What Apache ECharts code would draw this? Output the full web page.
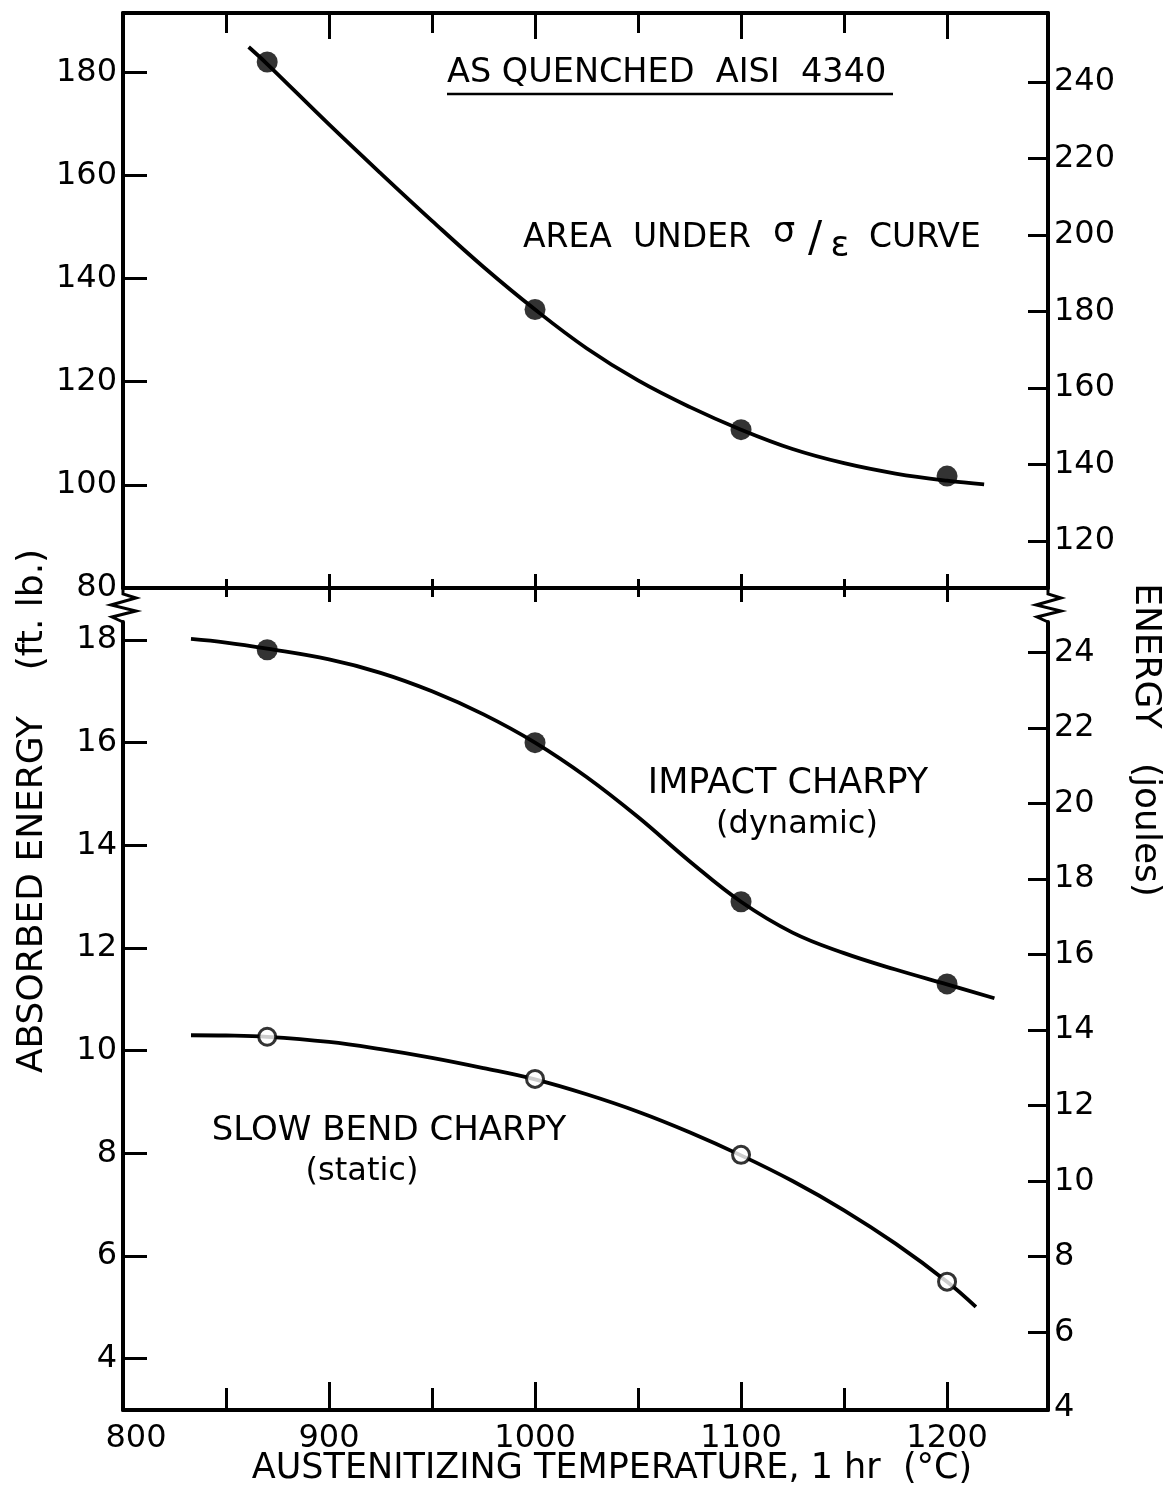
<!DOCTYPE html>
<html>
<head>
<meta charset="utf-8">
<script src="https://cdn.jsdelivr.net/npm/echarts@6/dist/echarts.min.js"></script>
<style>
  html, body { margin: 0; padding: 0; background: #fff; }
  #chart { width: 1171px; height: 1497px; }
</style>
</head>
<body>
<div id="chart"></div>
<script>
// Austenitizing temperatures of the test points (°C)
const testTemps = [870, 1000, 1100, 1200];
// Absorbed energy at each test temperature (ft-lb)
const areaUnderCurve = [182.0, 134.0, 110.7, 101.7];
const impactCharpy = [17.81, 16.0, 12.9, 11.3];
const slowBendCharpy = [10.27, 9.45, 7.97, 5.5];

// Faired curves through the test points (temperature °C, ft-lb)
const areaFitTemps = [861, 870, 900, 925, 950, 975, 1000, 1025, 1050, 1075, 1100, 1125, 1150, 1175, 1200, 1218];
const areaFitValues = [184.9, 181.6, 169.9, 160.45, 151.2, 142.25, 134.0, 126.5, 120.25, 115.12, 110.7, 106.95, 104.2, 102.2, 100.8, 100.1];
const impactFitTemps = [833, 850, 870, 900, 925, 950, 975, 1000, 1025, 1050, 1075, 1100, 1125, 1150, 1175, 1200, 1223];
const impactFitValues = [18.02, 17.95, 17.83, 17.62, 17.36, 17.0, 16.55, 16.0, 15.33, 14.55, 13.69, 12.9, 12.3, 11.9, 11.58, 11.29, 11.02];
const slowFitTemps = [833, 850, 870, 900, 925, 950, 975, 1000, 1025, 1050, 1075, 1100, 1125, 1150, 1175, 1200, 1214];
const slowFitValues = [10.3, 10.295, 10.27, 10.17, 10.03, 9.86, 9.66, 9.44, 9.15, 8.81, 8.41, 7.96, 7.46, 6.89, 6.24, 5.5, 5.01];

// Axis ranges and tick labels
const tempRange = [800, 1249];
const upperFtLbRange = [80, 191.5];
const upperJouleRange = [107.7, 258.0];
const lowerFtLbRange = [3, 18.35];
const lowerJouleRange = [3.94, 24.81];
const tempTicks = [800, 900, 1000, 1100, 1200];
const tempMajorTicks = [900, 1000, 1100, 1200];
const tempMinorTicks = [850, 950, 1050, 1150];
const upperFtLbTicks = [80, 100, 120, 140, 160, 180];
const upperJouleTicks = [120, 140, 160, 180, 200, 220, 240];
const lowerFtLbTicks = [4, 6, 8, 10, 12, 14, 16, 18];
const lowerJouleTicks = [4, 6, 8, 10, 12, 14, 16, 18, 20, 22, 24];

// Page layout (px)
const FONT = 'DejaVu Sans';
const INK = '#000';
const GRID_LEFT = 123, GRID_RIGHT = 123;
const UPPER_TOP = 13, UPPER_BOTTOM = 588;
const LOWER_TOP = 622, LOWER_BOTTOM = 1410;
const PAGE_W = 1171;

const zip = (xs, ys) => xs.map((x, i) => [x, ys[i]]);

// x axis carrying only a set of ticks (gives major and minor ticks different lengths)
function tickAxis(gridIndex, position, values, length, inside, showLine) {
  return {
    type: 'value', gridIndex, position, min: tempRange[0], max: tempRange[1],
    axisLine: { show: showLine, onZero: false, lineStyle: { color: INK, width: 4 } },
    axisTick: { show: true, inside, length, customValues: values, lineStyle: { color: INK, width: 3 } },
    axisLabel: { show: false },
    splitLine: { show: false }
  };
}

const labelStyle = { color: INK, fontFamily: FONT, fontSize: 32 };

function energyAxis(gridIndex, position, range, labels, ticks, tickLen) {
  return {
    type: 'value', gridIndex, position, min: range[0], max: range[1],
    axisLine: { show: true, onZero: false, lineStyle: { color: INK, width: 4 } },
    axisTick: { show: true, inside: true, length: tickLen, customValues: ticks, lineStyle: { color: INK, width: 3 } },
    axisLabel: Object.assign({ show: true, margin: 6, customValues: labels }, labelStyle),
    splitLine: { show: false }
  };
}

const xAxes = [
  tickAxis(0, 'top', tempMajorTicks, 26, true, true),
  tickAxis(0, 'top', tempMinorTicks, 20, true, false),
  tickAxis(0, 'bottom', tempMajorTicks, 14, true, true),
  tickAxis(0, 'bottom', tempMajorTicks, 14, false, false),
  tickAxis(0, 'bottom', tempMinorTicks, 9, true, false),
  tickAxis(0, 'bottom', tempMinorTicks, 9, false, false),
  Object.assign(tickAxis(1, 'bottom', tempMajorTicks, 28, true, true), {
    axisLabel: Object.assign({
      show: true, margin: 13, customValues: tempTicks,
      formatter: v => (v === 800 ? '{shift|800}' : String(v)),
      rich: { shift: Object.assign({ padding: [0, 0, 0, 26] }, labelStyle) }
    }, labelStyle)
  }),
  tickAxis(1, 'bottom', tempMinorTicks, 22, true, false)
];
const UPPER_X = 2, LOWER_X = 6;

const yAxes = [
  energyAxis(0, 'left', upperFtLbRange, upperFtLbTicks, upperFtLbTicks.slice(1), 24),
  energyAxis(0, 'right', upperJouleRange, upperJouleTicks, upperJouleTicks, 20),
  energyAxis(1, 'left', lowerFtLbRange, lowerFtLbTicks, lowerFtLbTicks, 24),
  energyAxis(1, 'right', lowerJouleRange, lowerJouleTicks, lowerJouleTicks.slice(1), 20)
];

function fitLine(name, xi, yi, temps, values) {
  return {
    name, type: 'line', xAxisIndex: xi, yAxisIndex: yi,
    data: zip(temps, values), smooth: 0.4,
    showSymbol: false, silent: true,
    lineStyle: { color: INK, width: 3.8 }, z: 2
  };
}
function points(name, xi, yi, values, hollow) {
  return {
    name, type: 'scatter', xAxisIndex: xi, yAxisIndex: yi,
    data: zip(testTemps, values), symbol: 'circle',
    symbolSize: hollow ? 17 : 21,
    itemStyle: hollow ? { color: '#fff', borderColor: INK, borderWidth: 3 } : { color: INK },
    z: 4
  };
}

function text(str, x, y, size, opts) {
  opts = opts || {};
  return {
    type: 'text', x, y, silent: true, rotation: opts.rotation || 0,
    style: Object.assign({
      text: str, fill: INK, font: size + 'px "' + FONT + '"',
      align: 'center', verticalAlign: 'middle'
    }, opts.style || {})
  };
}

// axis-break zigzags joining the two panels
function zigzag(x) {
  const pts = [[0, 0], [0, 6], [13, 10], [-12, 17], [13, 23], [-11, 29], [0, 34]]
    .map(([dx, dy]) => [x + dx, UPPER_BOTTOM + dy]);
  return { type: 'polyline', silent: true, shape: { points: pts }, style: { stroke: INK, lineWidth: 3, fill: null } };
}

const graphics = [
  zigzag(GRID_LEFT),
  zigzag(PAGE_W - GRID_RIGHT),
  text('AS QUENCHED  AISI  4340', 447, 73, 33.5, { style: { align: 'left' } }),
  { type: 'line', silent: true, shape: { x1: 447, y1: 94, x2: 893, y2: 94 }, style: { stroke: INK, lineWidth: 2.5 } },
  text('AREA  UNDER', 523, 238, 33, { style: { align: 'left' } }),
  text('σ', 784, 233, 35),
  text('/', 815, 240, 42),
  text('ε', 840, 247, 35),
  text('CURVE', 869, 238, 33, { style: { align: 'left' } }),
  text('IMPACT CHARPY', 788, 784, 35),
  text('(dynamic)', 797, 825, 32),
  text('SLOW BEND CHARPY', 389, 1131, 34),
  text('(static)', 362, 1172, 32),
  text('ABSORBED ENERGY    (ft. lb.)', 33, 811, 36, { rotation: Math.PI / 2 }),
  text('ENERGY   (joules)', 1145, 740, 36, { rotation: -Math.PI / 2 }),
  text('AUSTENITIZING TEMPERATURE, 1 hr  (°C)', 612, 1469, 35)
];

const chart = echarts.init(document.getElementById('chart'), null, { renderer: 'canvas' });
chart.setOption({
  backgroundColor: '#fff',
  animation: false,
  grid: [
    { left: GRID_LEFT, right: GRID_RIGHT, top: UPPER_TOP, height: UPPER_BOTTOM - UPPER_TOP },
    { left: GRID_LEFT, right: GRID_RIGHT, top: LOWER_TOP, height: LOWER_BOTTOM - LOWER_TOP }
  ],
  xAxis: xAxes,
  yAxis: yAxes,
  series: [
    fitLine('Area under σ/ε curve', UPPER_X, 0, areaFitTemps, areaFitValues),
    points('Area under σ/ε curve, tests', UPPER_X, 0, areaUnderCurve, false),
    fitLine('Impact Charpy (dynamic)', LOWER_X, 2, impactFitTemps, impactFitValues),
    points('Impact Charpy, tests', LOWER_X, 2, impactCharpy, false),
    fitLine('Slow bend Charpy (static)', LOWER_X, 2, slowFitTemps, slowFitValues),
    points('Slow bend Charpy, tests', LOWER_X, 2, slowBendCharpy, true)
  ],
  graphic: graphics
});
</script>
</body>
</html>
